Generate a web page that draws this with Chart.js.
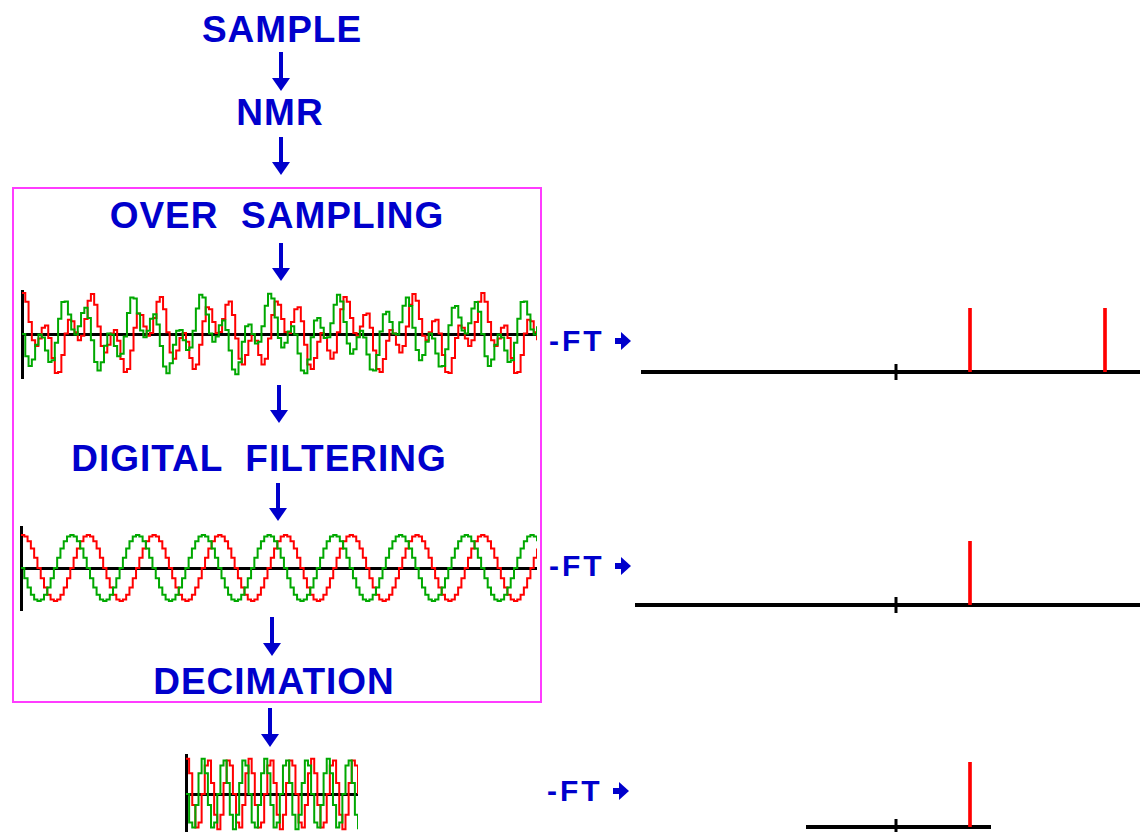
<!DOCTYPE html>
<html>
<head>
<meta charset="utf-8">
<title>Over sampling / digital filtering / decimation</title>
<script src="https://cdn.jsdelivr.net/npm/chart.js@4.4.1/dist/chart.umd.min.js"></script>
<style>
    html, body { margin: 0; padding: 0; width: 1140px; height: 832px; overflow: hidden; background: #fff; }
    canvas { position: absolute; }
    .lbl {
        position: absolute; width: 400px; text-align: center; white-space: pre;
        font: bold 37px "Liberation Sans", Arial, sans-serif; line-height: 37px;
        letter-spacing: 1px; color: #0000cc;
    }
    .ft {
        position: absolute; white-space: pre;
        font: bold 30px "Liberation Sans", Arial, sans-serif; line-height: 30px;
        letter-spacing: 3px; color: #0000cc;
    }
    .down { position: absolute; width: 0; }
    .down::before { content: ''; position: absolute; left: -2px; top: 0; bottom: 12px; width: 4px; background: #0000cc; }
    .down::after {
        content: ''; position: absolute; left: -9px; bottom: 0;
        border-left: 9px solid transparent; border-right: 9px solid transparent; border-top: 13px solid #0000cc;
    }
    .right { position: absolute; height: 0; }
    .right::before { content: ''; position: absolute; left: 0; top: -3px; width: 8px; height: 6px; background: #0000cc; }
    .right::after {
        content: ''; position: absolute; left: 6px; top: -9px;
        border-top: 9px solid transparent; border-bottom: 9px solid transparent; border-left: 10px solid #0000cc;
    }
    .box { position: absolute; left: 12px; top: 187px; width: 526px; height: 512px; border: 2px solid #ff3cff; }
</style>
</head>
<body>
<div class="box"></div>

<div class="lbl" style="left:82px;top:11px">SAMPLE</div>
<div class="lbl" style="left:80px;top:94px">NMR</div>
<div class="lbl" style="left:77px;top:197px">OVER  SAMPLING</div>
<div class="lbl" style="left:59px;top:440px">DIGITAL  FILTERING</div>
<div class="lbl" style="left:74px;top:663px">DECIMATION</div>

<div class="down" style="left:281px;top:52px;height:39px"></div>
<div class="down" style="left:281px;top:137px;height:38px"></div>
<div class="down" style="left:281px;top:243px;height:38px"></div>
<div class="down" style="left:279px;top:385px;height:38px"></div>
<div class="down" style="left:278px;top:483px;height:38px"></div>
<div class="down" style="left:272px;top:617px;height:39px"></div>
<div class="down" style="left:270px;top:708px;height:39px"></div>

<div class="ft" style="left:549px;top:326px">-FT</div>
<div class="right" style="left:615px;top:341px"></div>
<div class="ft" style="left:549px;top:551px">-FT</div>
<div class="right" style="left:615px;top:566px"></div>
<div class="ft" style="left:547px;top:776px">-FT</div>
<div class="right" style="left:613px;top:791px"></div>

<canvas id="wave-over" width="527" height="98" style="left:16px;top:285px"></canvas>
<canvas id="wave-filtered" width="528" height="94" style="left:15px;top:521px"></canvas>
<canvas id="wave-decimated" width="184" height="90" style="left:180px;top:749px"></canvas>

<canvas id="spec-over" width="523" height="84" style="left:633px;top:298px"></canvas>
<canvas id="spec-filtered" width="529" height="84" style="left:627px;top:531px"></canvas>
<canvas id="spec-decimated" width="202" height="85" style="left:798px;top:752px"></canvas>

<script>
// over sampled FID (real = red, imaginary = green)
const overRed = [
    2, 1.57, .59, -.31, -.59, -.22, .31, .41, -.19, -1.17,
    -1.90, -1.85, -1.03, .03, .69, .62, .09, -.31, -.09, .73,
    1.62, 1.95, 1.43, .37, -.59, -.90, -.53, .03, .19, -.33,
    -1.22, -1.85, -1.71, -.81, .31, 1, .93, .37, -.09, .05,
    .78, 1.57, 1.81, 1.21, .09, -.90, -1.21, -.81, -.19, .05,
    -.38, -1.17, -1.71, -1.49, -.53, .62, 1.31, 1.21, .59, .05,
    .10, .73, 1.43, 1.59, .93, -.22, -1.21, -1.49, -1.03, -.33,
    0, -.33, -1.03, -1.49, -1.21, -.22, .93, 1.59, 1.43, .73,
    .10, .05, .59, 1.21, 1.31, .62, -.53, -1.49, -1.71, -1.17,
    -.38, .05, -.19, -.81, -1.21, -.90, .09, 1.21, 1.81, 1.57,
    .78, .05, -.09, .37, .93, 1, .31, -.81, -1.71, -1.85,
    -1.22, -.33, .19, .03, -.53, -.90, -.59, .37, 1.43, 1.95,
    1.62, .73, -.09, -.31, .09, .62, .69, .03, -1.03, -1.85,
    -1.90, -1.17, -.19, .41, .31, -.22, -.59, -.31, .59, 1.57,
    2, 1.57, .59, -.31, -.59, -.22, .31, .41, -.19, -1.17,
    -1.90, -1.85, -1.03, .03, .69, .62, .09, -.31
];
const overGreen = [
    0, -1.09, -1.56, -1.24, -.52, -.03, -.17, -.81, -1.37, -1.28,
    -.43, .74, 1.56, 1.59, .95, .22, -.02, .38, 1.02, 1.28,
    .78, -.31, -1.37, -1.78, -1.38, -.57, .02, -.03, -.59, -1.09,
    -.97, -.12, 1.02, 1.78, 1.73, 1, .17, -.16, .16, .74,
    .97, .47, -.59, -1.59, -1.92, -1.43, -.52, .16, .19, -.31,
    -.78, -.66, .16, 1.24, 1.92, 1.78, .95, .03, -.38, -.12,
    .43, .66, .19, -.81, -1.73, -1.97, -1.38, -.38, .38, .47,
    0, -.47, -.38, .38, 1.38, 1.97, 1.73, .81, -.19, -.66,
    -.43, .12, .38, -.03, -.95, -1.78, -1.92, -1.24, -.16, .66,
    .78, .31, -.19, -.16, .52, 1.43, 1.92, 1.59, .59, -.47,
    -.97, -.74, -.16, .16, -.17, -1, -1.73, -1.78, -1.02, .12,
    .97, 1.09, .59, .03, -.02, .57, 1.38, 1.78, 1.37, .31,
    -.78, -1.28, -1.02, -.38, .02, -.22, -.95, -1.59, -1.56, -.74,
    .43, 1.28, 1.37, .81, .17, .03, .52, 1.24, 1.56, 1.09,
    0, -1.09, -1.56, -1.24, -.52, -.03, -.17, -.81, -1.37, -1.28,
    -.43, .74, 1.56, 1.59, .95, .22, -.02, .38
];

// after the digital filter only the slow component is left
const filteredRed = [
    1, .95, .81, .59, .31, 0, -.31, -.59, -.81, -.95, -1, -.95, -.81, -.59, -.31, 0, .31, .59, .81, .95,
    1, .95, .81, .59, .31, 0, -.31, -.59, -.81, -.95, -1, -.95, -.81, -.59, -.31, 0, .31, .59, .81, .95,
    1, .95, .81, .59, .31, 0, -.31, -.59, -.81, -.95, -1, -.95, -.81, -.59, -.31, 0, .31, .59, .81, .95,
    1, .95, .81, .59, .31, 0, -.31, -.59, -.81, -.95, -1, -.95, -.81, -.59, -.31, 0, .31, .59, .81, .95,
    1, .95, .81, .59, .31, 0, -.31, -.59, -.81, -.95, -1, -.95, -.81, -.59, -.31, 0, .31, .59, .81, .95,
    1, .95, .81, .59, .31, 0, -.31, -.59, -.81, -.95, -1, -.95, -.81, -.59, -.31, 0, .31, .59, .81, .95,
    1, .95, .81, .59, .31, 0, -.31, -.59, -.81, -.95, -1, -.95, -.81, -.59, -.31, 0, .31, .59, .81, .95,
    1, .95, .81, .59, .31, 0, -.31, -.59, -.81, -.95, -1, -.95, -.81, -.59, -.31, 0, .31, .59
];
const filteredGreen = [
    0, -.31, -.59, -.81, -.95, -1, -.95, -.81, -.59, -.31, 0, .31, .59, .81, .95, 1, .95, .81, .59, .31,
    0, -.31, -.59, -.81, -.95, -1, -.95, -.81, -.59, -.31, 0, .31, .59, .81, .95, 1, .95, .81, .59, .31,
    0, -.31, -.59, -.81, -.95, -1, -.95, -.81, -.59, -.31, 0, .31, .59, .81, .95, 1, .95, .81, .59, .31,
    0, -.31, -.59, -.81, -.95, -1, -.95, -.81, -.59, -.31, 0, .31, .59, .81, .95, 1, .95, .81, .59, .31,
    0, -.31, -.59, -.81, -.95, -1, -.95, -.81, -.59, -.31, 0, .31, .59, .81, .95, 1, .95, .81, .59, .31,
    0, -.31, -.59, -.81, -.95, -1, -.95, -.81, -.59, -.31, 0, .31, .59, .81, .95, 1, .95, .81, .59, .31,
    0, -.31, -.59, -.81, -.95, -1, -.95, -.81, -.59, -.31, 0, .31, .59, .81, .95, 1, .95, .81, .59, .31,
    0, -.31, -.59, -.81, -.95, -1, -.95, -.81, -.59, -.31, 0, .31, .59, .81, .95, 1, .95, .81
];

// every third point kept
const decimatedRed = [
    1, .59, -.31, -.95, -.81, 0, .81, .95, .31, -.59, -1, -.59, .31, .95, .81, 0, -.81, -.95, -.31, .59,
    1, .59, -.31, -.95, -.81, 0, .81, .95, .31, -.59, -1, -.59, .31, .95, .81, 0, -.81, -.95, -.31, .59,
    1, .59, -.31, -.95, -.81, 0, .81, .95, .31, -.59, -1, -.59, .31, .95, .81, 0
];
const decimatedGreen = [
    0, -.81, -.95, -.31, .59, 1, .59, -.31, -.95, -.81, 0, .81, .95, .31, -.59, -1, -.59, .31, .95, .81,
    0, -.81, -.95, -.31, .59, 1, .59, -.31, -.95, -.81, 0, .81, .95, .31, -.59, -1, -.59, .31, .95, .81,
    0, -.81, -.95, -.31, .59, 1, .59, -.31, -.95, -.81, 0, .81, .95, .31, -.59, -1
];

// spectra: peak frequencies and heights, plus the visible frequency window
const overPeakFreqs = [74, 209];
const overPeakHeights = [1, 1];
const overFreqRange = [-253, 250];
const filteredPeakFreqs = [74];
const filteredPeakHeights = [1];
const filteredFreqRange = [-259, 250];
const decimatedPeakFreqs = [74];
const decimatedPeakHeights = [1];
const decimatedFreqRange = [-88, 94];

const RED = '#ff0000';
const GREEN = '#00a800';

const baseOptions = {
    responsive: false,
    animation: false,
    events: [],
    plugins: { legend: { display: false }, tooltip: { enabled: false } }
};

function drawWave(id, red, green, yLimit) {
    const toPoints = arr => arr.map((v, i) => ({ x: i, y: v }));
    new Chart(document.getElementById(id), {
        type: 'line',
        data: {
            datasets: [
                { data: toPoints(green), borderColor: GREEN, borderWidth: 2, pointRadius: 0, stepped: true },
                { data: toPoints(red), borderColor: RED, borderWidth: 2, pointRadius: 0, stepped: true }
            ]
        },
        options: {
            ...baseOptions,
            layout: { padding: 6 },
            scales: {
                x: { type: 'linear', display: false, min: 0, max: red.length - 1 },
                y: {
                    min: -yLimit, max: yLimit, z: 1,
                    ticks: { display: false },
                    afterBuildTicks: s => { s.ticks = [{ value: 0 }]; },
                    grid: { drawTicks: false, color: '#000', lineWidth: 3 },
                    border: { display: true, color: '#000', width: 3 }
                }
            }
        }
    });
}

// little tick mark at zero frequency
const zeroTick = {
    id: 'zeroTick',
    afterDatasetsDraw(chart) {
        const { ctx, scales } = chart;
        const px = scales.x.getPixelForValue(0);
        const py = scales.y.getPixelForValue(0);
        ctx.save();
        ctx.strokeStyle = '#000';
        ctx.lineWidth = 3;
        ctx.beginPath();
        ctx.moveTo(px, py - 8);
        ctx.lineTo(px, py + 8);
        ctx.stroke();
        ctx.restore();
    }
};

function drawSpectrum(id, freqs, heights, range) {
    new Chart(document.getElementById(id), {
        type: 'bar',
        data: {
            datasets: [{
                data: freqs.map((f, i) => ({ x: f, y: heights[i] })),
                backgroundColor: RED,
                barThickness: 3,
                borderWidth: 0
            }]
        },
        options: {
            ...baseOptions,
            layout: { padding: 10 },
            scales: {
                x: {
                    type: 'linear', min: range[0], max: range[1], offset: false,
                    ticks: { display: false },
                    grid: { display: false, drawTicks: false },
                    border: { display: true, color: '#000', width: 4 }
                },
                y: { display: false, min: 0, max: 1 }
            }
        },
        plugins: [zeroTick]
    });
}

drawWave('wave-over', overRed, overGreen, 2.1);
drawWave('wave-filtered', filteredRed, filteredGreen, 1.24);
drawWave('wave-decimated', decimatedRed, decimatedGreen, 1.11);

drawSpectrum('spec-over', overPeakFreqs, overPeakHeights, overFreqRange);
drawSpectrum('spec-filtered', filteredPeakFreqs, filteredPeakHeights, filteredFreqRange);
drawSpectrum('spec-decimated', decimatedPeakFreqs, decimatedPeakHeights, decimatedFreqRange);
</script>
</body>
</html>
